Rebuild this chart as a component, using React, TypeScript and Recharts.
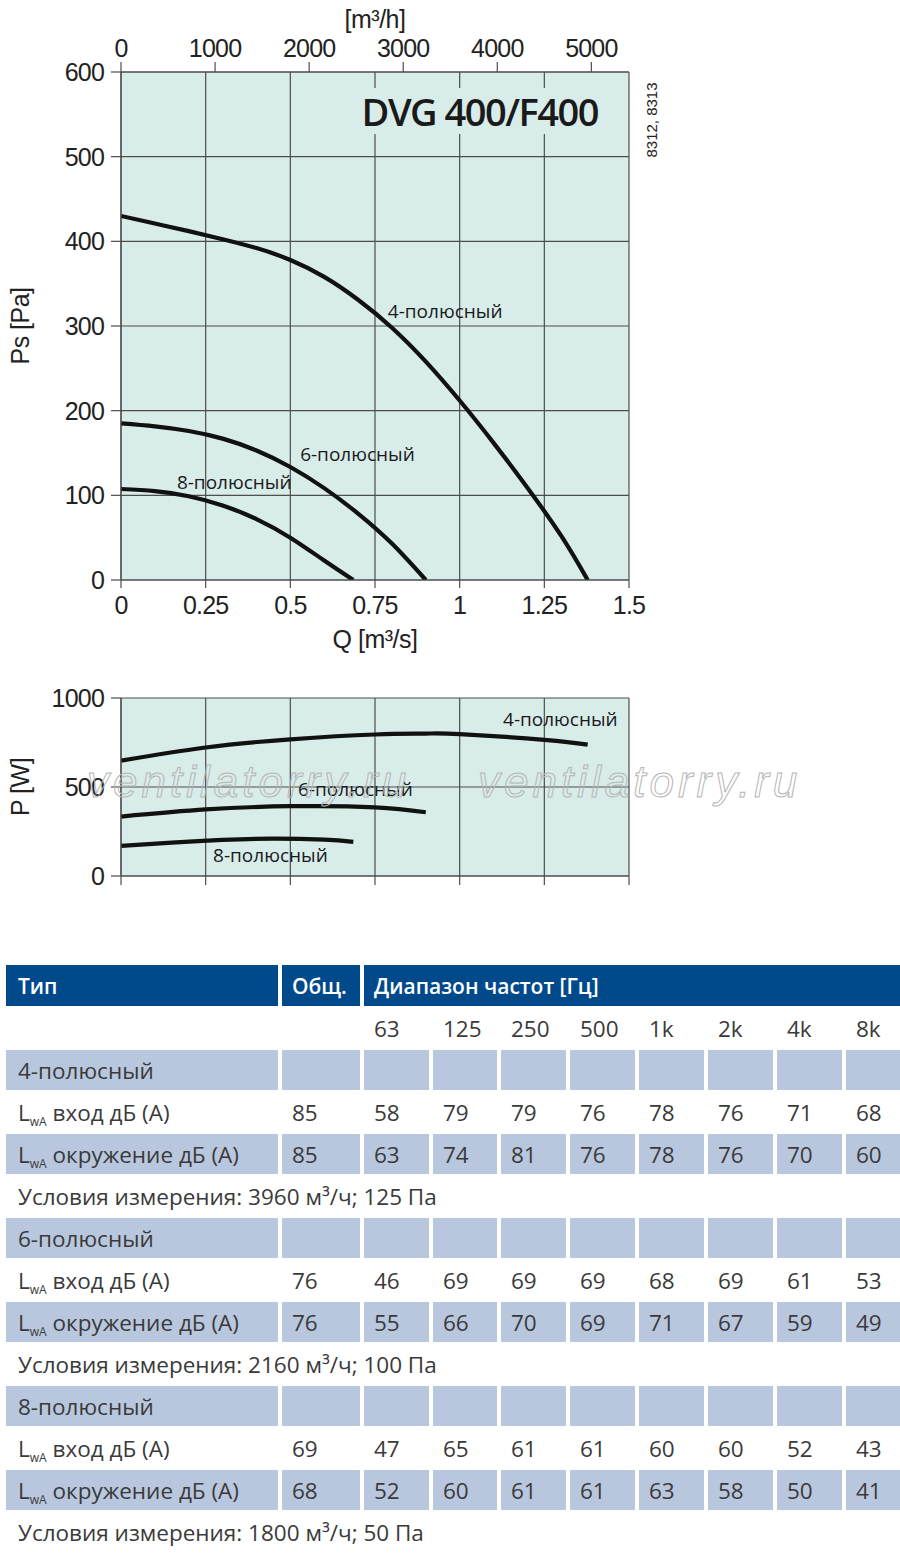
import { LineChart, Line, XAxis, YAxis, CartesianGrid, ReferenceDot, Label } from 'recharts';

// axes
const Q_TICKS = [0, 0.25, 0.5, 0.75, 1, 1.25, 1.5];
const FLOW_TICKS = [0, 1000, 2000, 3000, 4000, 5000];
const PS_TICKS = [0, 100, 200, 300, 400, 500, 600];
const P_TICKS = [0, 500, 1000];

const CURVE_NAMES = ['4-полюсный', '6-полюсный', '8-полюсный'];

// static pressure Ps [Pa] vs Q [m³/s]
const PS_Q_4 = [0, 0.1, 0.2, 0.3, 0.4, 0.5, 0.6, 0.7, 0.8, 0.9, 1.0, 1.1, 1.2, 1.3, 1.378];
const PS_4 = [430, 421, 412, 402.5, 392, 378, 358, 331, 298, 258, 212, 162, 109, 52, 0];
const PS_Q_6 = [0, 0.1, 0.2, 0.3, 0.4, 0.5, 0.6, 0.7, 0.8, 0.9];
const PS_6 = [185, 181.5, 176, 167, 153, 133.5, 108.5, 78.5, 43, 0];
const PS_Q_8 = [0, 0.1, 0.2, 0.3, 0.4, 0.5, 0.6, 0.686];
const PS_8 = [107.5, 105, 99, 88, 72, 50, 23, 0];

// power P [W] vs Q [m³/s]
const P_Q_4 = [0, 0.25, 0.5, 0.75, 0.9, 1.0, 1.25, 1.378];
const P_4 = [648, 722, 768, 795, 800, 797, 765, 738];
const P_Q_6 = [0, 0.25, 0.5, 0.75, 0.9];
const P_6 = [334, 374, 392, 386, 358];
const P_Q_8 = [0, 0.15, 0.3, 0.45, 0.6, 0.686];
const P_8 = [169, 188, 203, 210, 204, 192];

// where the curve names sit, in data units (q, value)
const PS_LABEL_AT = [[0.788, 318], [0.529, 148], [0.165, 115]];
const P_LABEL_AT = [[1.128, 882], [0.523, 489], [0.272, 118]];

// sound table
const FREQ_BANDS = ['63', '125', '250', '500', '1k', '2k', '4k', '8k'];
const TOTAL_IN = [85, 76, 69];
const TOTAL_ENV = [85, 76, 68];
const BANDS_IN = [
  [58, 79, 79, 76, 78, 76, 71, 68],
  [46, 69, 69, 69, 68, 69, 61, 53],
  [47, 65, 61, 61, 60, 60, 52, 43],
];
const BANDS_ENV = [
  [63, 74, 81, 76, 78, 76, 70, 60],
  [55, 66, 70, 69, 71, 67, 59, 49],
  [52, 60, 61, 61, 63, 58, 50, 41],
];
const MEAS_FLOW = [3960, 2160, 1800];
const MEAS_PRESS = [125, 100, 50];

const toPoints = (q: number[], v: number[]) => q.map((x, i) => ({ q: x, v: v[i] }));

const PS_SERIES = [toPoints(PS_Q_4, PS_4), toPoints(PS_Q_6, PS_6), toPoints(PS_Q_8, PS_8)];
const P_SERIES = [toPoints(P_Q_4, P_4), toPoints(P_Q_6, P_6), toPoints(P_Q_8, P_8)];
// empty series so the m³/h axis gets its scale
const FLOW_POINTS = FLOW_TICKS.map((f) => ({ flow: f, v: null }));

const PLOT_BG = '#d8ecea';
const GRID = '#4d4d4d';
const AXIS_FONT = '"Liberation Sans", Arial, sans-serif';
const TEXT_FONT = '"Open Sans", "Noto Sans", sans-serif';
const tickStyle = { fontSize: 25, fill: '#222', fontFamily: AXIS_FONT, letterSpacing: -0.8 };
const lineStyle = { stroke: GRID, strokeWidth: 1.2 };
const axisTitle = { fontSize: 25, fill: '#222', fontFamily: AXIS_FONT, letterSpacing: -0.5 };
const curveLabel = { fontSize: 19, fill: '#1a1a1a', fontFamily: TEXT_FONT };

function PressureChart() {
  return (
    <div style={{ position: 'absolute', left: 0, top: 0 }}>
      <LineChart width={680} height={660} margin={{ top: 0, right: 51, bottom: 0, left: 0 }}>
        <CartesianGrid xAxisId="q" yAxisId="ps" stroke={GRID} strokeWidth={1.2} fill={PLOT_BG} fillOpacity={1} />
        <XAxis
          xAxisId="q" dataKey="q" type="number" domain={[0, 1.5]} ticks={Q_TICKS}
          height={80} tickSize={8} tickMargin={8} tick={tickStyle}
          axisLine={lineStyle} tickLine={lineStyle} allowDataOverflow
        >
          <Label value="Q [m³/s]" position="insideBottom" offset={12} style={axisTitle} />
        </XAxis>
        <XAxis
          xAxisId="flow" dataKey="flow" orientation="top" type="number" domain={[0, 5400]} ticks={FLOW_TICKS}
          height={72} tickSize={10} tickMargin={5} tick={tickStyle}
          axisLine={lineStyle} tickLine={lineStyle} allowDataOverflow
        >
          <Label value="[m³/h]" position="insideTop" offset={10} style={axisTitle} />
        </XAxis>
        <YAxis
          yAxisId="ps" type="number" domain={[0, 600]} ticks={PS_TICKS}
          width={121} tickSize={10} tickMargin={7} tick={tickStyle}
          axisLine={lineStyle} tickLine={lineStyle} allowDataOverflow
        >
          <Label value="Ps [Pa]" angle={-90} position="insideLeft" offset={20} style={{ ...axisTitle, textAnchor: 'middle' }} />
        </YAxis>
        <Line
          xAxisId="flow" yAxisId="ps" data={FLOW_POINTS} dataKey="v" stroke="none"
          dot={false} activeDot={false} legendType="none" isAnimationActive={false}
        />
        {PS_SERIES.map((pts, i) => (
          <Line
            key={CURVE_NAMES[i]} xAxisId="q" yAxisId="ps" data={pts} dataKey="v" type="natural"
            stroke="#111" strokeWidth={4.2} dot={false} activeDot={false} isAnimationActive={false}
          />
        ))}
        {PS_LABEL_AT.map(([x, y], i) => (
          <ReferenceDot key={i} xAxisId="q" yAxisId="ps" x={x} y={y} r={0} fill="none" stroke="none">
            <Label value={CURVE_NAMES[i]} position="right" offset={0} style={curveLabel} />
          </ReferenceDot>
        ))}
      </LineChart>
    </div>
  );
}

function PowerChart() {
  return (
    <div style={{ position: 'absolute', left: 0, top: 660 }}>
      <LineChart width={680} height={240} margin={{ top: 38, right: 51, bottom: 0, left: 0 }}>
        <CartesianGrid xAxisId="q" yAxisId="p" stroke={GRID} strokeWidth={1.2} fill={PLOT_BG} fillOpacity={1} />
        <XAxis
          xAxisId="q" dataKey="q" type="number" domain={[0, 1.5]} ticks={Q_TICKS}
          height={24} tickSize={9} tickFormatter={() => ''} tick={tickStyle}
          axisLine={lineStyle} tickLine={lineStyle} allowDataOverflow
        />
        <YAxis
          yAxisId="p" type="number" domain={[0, 1000]} ticks={P_TICKS}
          width={121} tickSize={10} tickMargin={7} tick={tickStyle}
          axisLine={lineStyle} tickLine={lineStyle} allowDataOverflow
        >
          <Label value="P [W]" angle={-90} position="insideLeft" offset={20} style={{ ...axisTitle, textAnchor: 'middle' }} />
        </YAxis>
        {P_SERIES.map((pts, i) => (
          <Line
            key={CURVE_NAMES[i]} xAxisId="q" yAxisId="p" data={pts} dataKey="v" type="natural"
            stroke="#111" strokeWidth={4.2} dot={false} activeDot={false} isAnimationActive={false}
          />
        ))}
        {P_LABEL_AT.map(([x, y], i) => (
          <ReferenceDot key={i} xAxisId="q" yAxisId="p" x={x} y={y} r={0} fill="none" stroke="none">
            <Label value={CURVE_NAMES[i]} position="right" offset={0} style={curveLabel} />
          </ReferenceDot>
        ))}
      </LineChart>
    </div>
  );
}

const BLUE_ROW = '#b9c7de';
const HEAD_BG = '#004a8c';
const COLS = '272px 78px 65px 64px 65px 65px 65px 65px 65px 54px';

function Cell({ children, bg, span, head }: { children?: any; bg?: string; span?: number; head?: boolean }) {
  return (
    <div
      style={{
        gridColumn: span ? `span ${span}` : undefined,
        background: bg || 'transparent',
        display: 'flex',
        alignItems: 'center',
        paddingLeft: 10,
        whiteSpace: 'nowrap',
        overflow: 'hidden',
        color: head ? '#fff' : '#3a3a3a',
        fontWeight: head ? 600 : 400,
        fontSize: head ? 21 : 22.5,
      }}
    >
      {children}
    </div>
  );
}

function Lwa({ what }: { what: string }) {
  return (
    <span style={{ paddingLeft: 2 }}>
      L<span style={{ fontSize: 12, position: 'relative', top: 5 }}>wA</span> {what} дБ (A)
    </span>
  );
}

function SoundTable() {
  const rows: any[] = [];
  rows.push(
    <Cell key="h1" bg={HEAD_BG} head><span style={{ paddingLeft: 2 }}>Тип</span></Cell>,
    <Cell key="h2" bg={HEAD_BG} head>Общ.</Cell>,
    <Cell key="h3" bg={HEAD_BG} head span={8}>Диапазон частот [Гц]</Cell>,
    <Cell key="b1" />,
    <Cell key="b2" />,
    ...FREQ_BANDS.map((f) => <Cell key={'f' + f}>{f}</Cell>),
  );
  CURVE_NAMES.forEach((name, i) => {
    rows.push(<Cell key={'n' + i} bg={BLUE_ROW}><span style={{ paddingLeft: 2 }}>{name}</span></Cell>);
    for (let c = 0; c < 9; c++) rows.push(<Cell key={`n${i}-${c}`} bg={BLUE_ROW} />);
    rows.push(<Cell key={'i' + i}><Lwa what="вход" /></Cell>);
    rows.push(<Cell key={'it' + i}>{TOTAL_IN[i]}</Cell>);
    BANDS_IN[i].forEach((v, c) => rows.push(<Cell key={`i${i}-${c}`}>{v}</Cell>));
    rows.push(<Cell key={'e' + i} bg={BLUE_ROW}><Lwa what="окружение" /></Cell>);
    rows.push(<Cell key={'et' + i} bg={BLUE_ROW}>{TOTAL_ENV[i]}</Cell>);
    BANDS_ENV[i].forEach((v, c) => rows.push(<Cell key={`e${i}-${c}`} bg={BLUE_ROW}>{v}</Cell>));
    rows.push(
      <Cell key={'m' + i} span={10}>
        <span style={{ paddingLeft: 2 }}>Условия измерения: {MEAS_FLOW[i]} м³/ч; {MEAS_PRESS[i]} Па</span>
      </Cell>,
    );
  });
  return (
    <div
      style={{
        position: 'absolute', left: 6, top: 965, width: 894,
        display: 'grid', gridTemplateColumns: COLS, gridTemplateRows: '41px repeat(13, 40px)',
        columnGap: 4, rowGap: 2, fontFamily: TEXT_FONT,
      }}
    >
      {rows}
    </div>
  );
}

const watermark = {
  position: 'absolute' as const, top: 757, fontFamily: AXIS_FONT, fontStyle: 'italic', fontSize: 44,
  letterSpacing: 4, color: 'transparent', WebkitTextStroke: '1px #b5b5b5', whiteSpace: 'nowrap' as const,
  pointerEvents: 'none' as const, lineHeight: '50px',
};

export default function App() {
  return (
    <div style={{ position: 'absolute', left: 0, top: 0, width: 900, height: 1568, overflow: 'hidden', background: '#fff' }}>
      <PressureChart />
      <div
        style={{
          position: 'absolute', left: 352, top: 88, width: 246, height: 46, paddingRight: 6,
          background: PLOT_BG, textAlign: 'right', fontFamily: TEXT_FONT, fontWeight: 600,
          fontSize: 38, lineHeight: '46px', letterSpacing: -1.5, color: '#1a1a1a', whiteSpace: 'nowrap',
        }}
      >
        DVG 400/F400
      </div>
      <div
        style={{
          position: 'absolute', left: 613, top: 111, width: 78, textAlign: 'center', transform: 'rotate(-90deg)',
          fontFamily: AXIS_FONT, fontSize: 15, lineHeight: '18px', color: '#222', whiteSpace: 'nowrap',
        }}
      >
        8312, 8313
      </div>
      <PowerChart />
      <div style={{ ...watermark, left: 87 }}>ventilatorry.ru</div>
      <div style={{ ...watermark, left: 478 }}>ventilatorry.ru</div>
      <SoundTable />
    </div>
  );
}
